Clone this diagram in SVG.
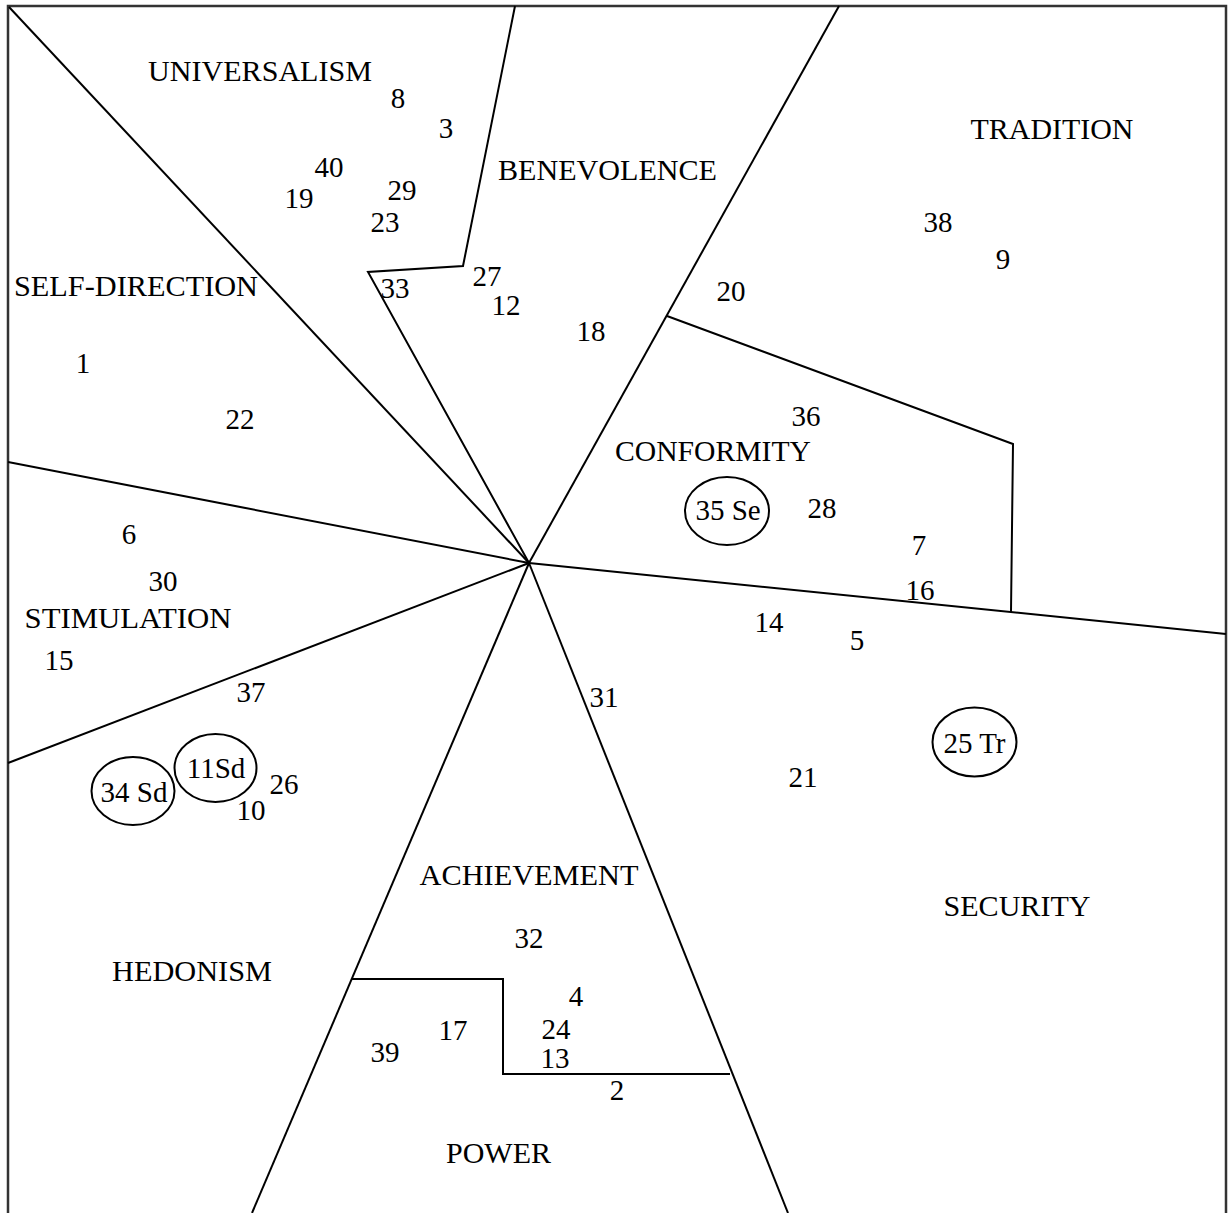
<svg xmlns="http://www.w3.org/2000/svg" width="1228" height="1213" viewBox="0 0 1228 1213">
<style>
.ln{fill:none;stroke:#000;stroke-width:2;stroke-linejoin:miter}
.fr{fill:none;stroke:#333;stroke-width:2.5}
.ci{fill:none;stroke:#000;stroke-width:2}
text{font-family:"Liberation Serif","Times New Roman",serif;font-size:29px;fill:#000;text-anchor:middle}
</style>
<rect width="1228" height="1213" fill="#fff"/>
<g id="frame">
<path class="fr" d="M8,1213 V6 H1226 V1213"/>
</g>
<g id="boundaries">
<line class="ln" x1="9" y1="7" x2="529" y2="563"/>
<polyline class="ln" points="529,563 368,272 463,266 515,6"/>
<line class="ln" x1="529" y1="563" x2="839" y2="6"/>
<polyline class="ln" points="667,316 1013,444 1011,612"/>
<line class="ln" x1="529" y1="563" x2="1226" y2="634"/>
<line class="ln" x1="8" y1="462" x2="529" y2="563"/>
<line class="ln" x1="8" y1="763" x2="529" y2="563"/>
<line class="ln" x1="529" y1="563" x2="252" y2="1213"/>
<line class="ln" x1="529" y1="563" x2="788" y2="1213"/>
<polyline class="ln" points="351,979 503,979 503,1074 730,1074"/>
</g>
<g id="labels">
<text x="260" y="81" textLength="224" lengthAdjust="spacingAndGlyphs">UNIVERSALISM</text>
<text x="136" y="296" textLength="244" lengthAdjust="spacingAndGlyphs">SELF-DIRECTION</text>
<text x="607.5" y="180" textLength="219" lengthAdjust="spacingAndGlyphs">BENEVOLENCE</text>
<text x="1052" y="139" textLength="163" lengthAdjust="spacingAndGlyphs">TRADITION</text>
<text x="713" y="461" textLength="196" lengthAdjust="spacingAndGlyphs">CONFORMITY</text>
<text x="128" y="628" textLength="207" lengthAdjust="spacingAndGlyphs">STIMULATION</text>
<text x="1017" y="916" textLength="147" lengthAdjust="spacingAndGlyphs">SECURITY</text>
<text x="192" y="981" textLength="160" lengthAdjust="spacingAndGlyphs">HEDONISM</text>
<text x="529" y="885" textLength="219" lengthAdjust="spacingAndGlyphs">ACHIEVEMENT</text>
<text x="498.5" y="1163" textLength="105" lengthAdjust="spacingAndGlyphs">POWER</text>
</g>
<g id="items">
<text x="398" y="108">8</text>
<text x="446" y="138">3</text>
<text x="329" y="177">40</text>
<text x="299" y="208">19</text>
<text x="402" y="200">29</text>
<text x="385" y="232">23</text>
<text x="395" y="298">33</text>
<text x="487" y="286">27</text>
<text x="506" y="315">12</text>
<text x="591" y="341">18</text>
<text x="83" y="373">1</text>
<text x="938" y="232">38</text>
<text x="1003" y="269">9</text>
<text x="731" y="301">20</text>
<text x="240" y="429">22</text>
<text x="129" y="544">6</text>
<text x="163" y="591">30</text>
<text x="59" y="670">15</text>
<text x="251" y="702">37</text>
<text x="284" y="794">26</text>
<text x="251" y="820">10</text>
<text x="604" y="707">31</text>
<text x="806" y="426">36</text>
<text x="822" y="518">28</text>
<text x="919" y="555">7</text>
<text x="920" y="600">16</text>
<text x="769" y="632">14</text>
<text x="857" y="650">5</text>
<text x="803" y="787">21</text>
<text x="529" y="948">32</text>
<text x="576" y="1006">4</text>
<text x="556" y="1039">24</text>
<text x="555" y="1068">13</text>
<text x="453" y="1040">17</text>
<text x="385" y="1062">39</text>
<text x="617" y="1100">2</text>
</g>
<g id="circled">
<ellipse class="ci" cx="133" cy="791" rx="41.5" ry="34"/>
<text x="134" y="802">34 Sd</text>
<ellipse class="ci" cx="215.5" cy="768" rx="41" ry="34"/>
<text x="216" y="778">11Sd</text>
<ellipse class="ci" cx="727" cy="511" rx="42" ry="34"/>
<text x="728" y="520">35 Se</text>
<ellipse class="ci" cx="974.5" cy="742" rx="42" ry="34.5"/>
<text x="974.5" y="753">25 Tr</text>
</g>
</svg>
